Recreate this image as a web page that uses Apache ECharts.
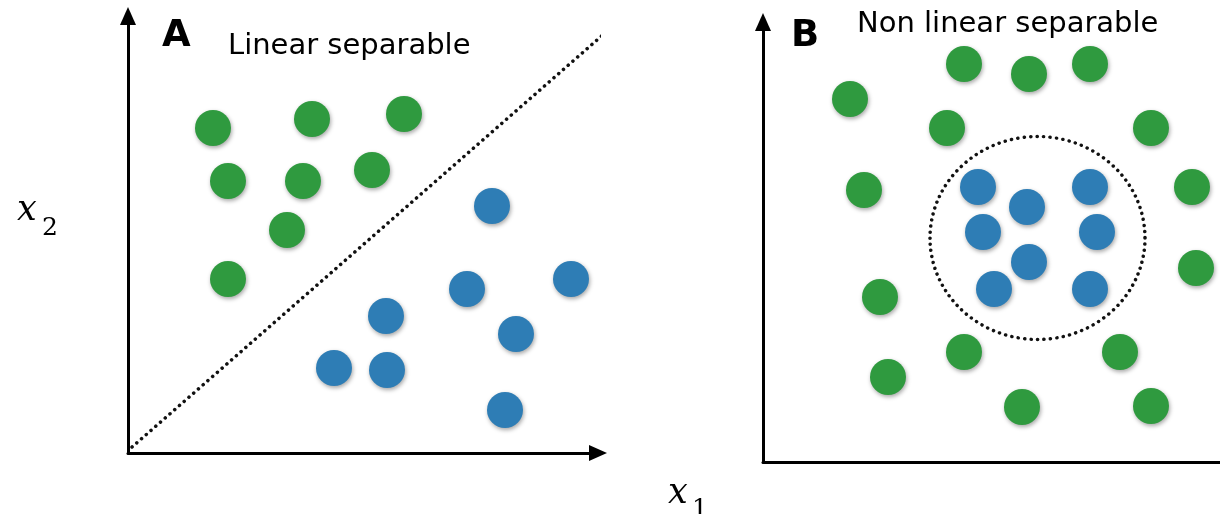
<!DOCTYPE html>
<html>
<head>
    <meta charset="utf-8">
    <title>Linear vs non linear separable</title>
    <script src="https://cdn.jsdelivr.net/npm/echarts@6/dist/echarts.min.js"></script>
    <style>
        html, body {margin: 0; padding: 0; background: #fff;}
        #main {width: 1220px; height: 514px;}
    </style>
</head>
<body>
<div id="main"></div>
<script>
    // panel A - linear separable (x, y in panel units)
    var greenA = [[85, 325], [184, 334], [276, 339], [100, 272], [175, 272], [244, 283], [159, 223], [100, 174]];
    var blueA = [[364, 247], [443, 174], [339, 164], [258, 137], [388, 119], [206, 85], [259, 83], [377, 43]];
    var boundaryA = [[4, 6], [477, 420]];

    // panel B - non linear separable
    var greenB = [[87, 363], [201, 398], [266, 388], [327, 398], [184, 334], [388, 334], [101, 272], [429, 275],
        [433, 194], [117, 165], [201, 110], [357, 110], [125, 85], [259, 55], [388, 56]];
    var blueB = [[215, 275], [327, 275], [264, 255], [220, 230], [334, 230], [266, 200], [231, 173], [327, 173]];
    var boundaryB = [[274.5, 224]];

    var GREEN = '#2f9a3f';
    var BLUE = '#2e7db5';
    var DOT = 36;

    var chart = echarts.init(document.getElementById('main'));

    function dotStyle(c) {
        return {
            color: c,
            opacity: 1,
            shadowBlur: 4,
            shadowColor: 'rgba(0,0,0,0.35)',
            shadowOffsetX: 1,
            shadowOffsetY: 2
        };
    }

    function axisLine(arrow) {
        return {
            show: true,
            symbol: arrow ? ['none', 'triangle'] : ['none', 'none'],
            symbolSize: [16, 18],
            lineStyle: {color: '#000', width: 3}
        };
    }

    function valueAxis(idx, max, arrow) {
        return {
            type: 'value', gridIndex: idx, min: 0, max: max,
            axisLine: axisLine(arrow),
            axisTick: {show: false},
            axisLabel: {show: false},
            splitLine: {show: false}
        };
    }

    chart.setOption({
        animation: false,
        backgroundColor: '#fff',
        grid: [
            {left: 128, right: 622, top: 16, bottom: 61},
            {left: 763, right: 0, top: 22, bottom: 52}
        ],
        xAxis: [valueAxis(0, 470, true), valueAxis(1, 457, false)],
        yAxis: [valueAxis(0, 437, true), valueAxis(1, 440, true)],
        graphic: [
            {type: 'text', x: 162, y: 36, style: {text: 'A', font: 'bold 37px "DejaVu Sans"', fill: '#000', verticalAlign: 'middle'}},
            {type: 'text', x: 228, y: 46, style: {text: 'Linear separable', font: '29px "DejaVu Sans"', fill: '#000', verticalAlign: 'middle'}},
            {type: 'text', x: 791, y: 36, style: {text: 'B', font: 'bold 37px "DejaVu Sans"', fill: '#000', verticalAlign: 'middle'}},
            {type: 'text', x: 857, y: 24, style: {text: 'Non linear separable', font: '29px "DejaVu Sans"', fill: '#000', verticalAlign: 'middle'}},
            {type: 'text', x: 17, y: 211, style: {text: 'x', font: 'italic 35px "DejaVu Serif"', fill: '#000', verticalAlign: 'middle'}},
            {type: 'text', x: 42, y: 228, style: {text: '2', font: '25px "DejaVu Serif"', fill: '#000', verticalAlign: 'middle'}},
            {type: 'text', x: 668, y: 494, style: {text: 'x', font: 'italic 35px "DejaVu Serif"', fill: '#000', verticalAlign: 'middle'}},
            {type: 'text', x: 692, y: 509, style: {text: '1', font: '25px "DejaVu Serif"', fill: '#000', verticalAlign: 'middle'}}
        ],
        series: [
            {
                type: 'line', xAxisIndex: 0, yAxisIndex: 0, data: boundaryA,
                clip: false, symbol: 'none',
                lineStyle: {color: '#111', width: 3.5, type: [0.1, 6.2], cap: 'round'}
            },
            {type: 'scatter', xAxisIndex: 0, yAxisIndex: 0, data: greenA, symbolSize: DOT, itemStyle: dotStyle(GREEN)},
            {type: 'scatter', xAxisIndex: 0, yAxisIndex: 0, data: blueA, symbolSize: DOT, itemStyle: dotStyle(BLUE)},
            {
                type: 'scatter', xAxisIndex: 1, yAxisIndex: 1, data: boundaryB,
                symbol: 'circle', symbolSize: [215, 203], silent: true,
                itemStyle: {color: 'rgba(0,0,0,0)', opacity: 1, borderColor: '#111', borderWidth: 3.5, borderType: [0.1, 6.2], borderCap: 'round'}
            },
            {type: 'scatter', xAxisIndex: 1, yAxisIndex: 1, data: greenB, symbolSize: DOT, itemStyle: dotStyle(GREEN)},
            {type: 'scatter', xAxisIndex: 1, yAxisIndex: 1, data: blueB, symbolSize: DOT, itemStyle: dotStyle(BLUE)}
        ]
    });
</script>
</body>
</html>
